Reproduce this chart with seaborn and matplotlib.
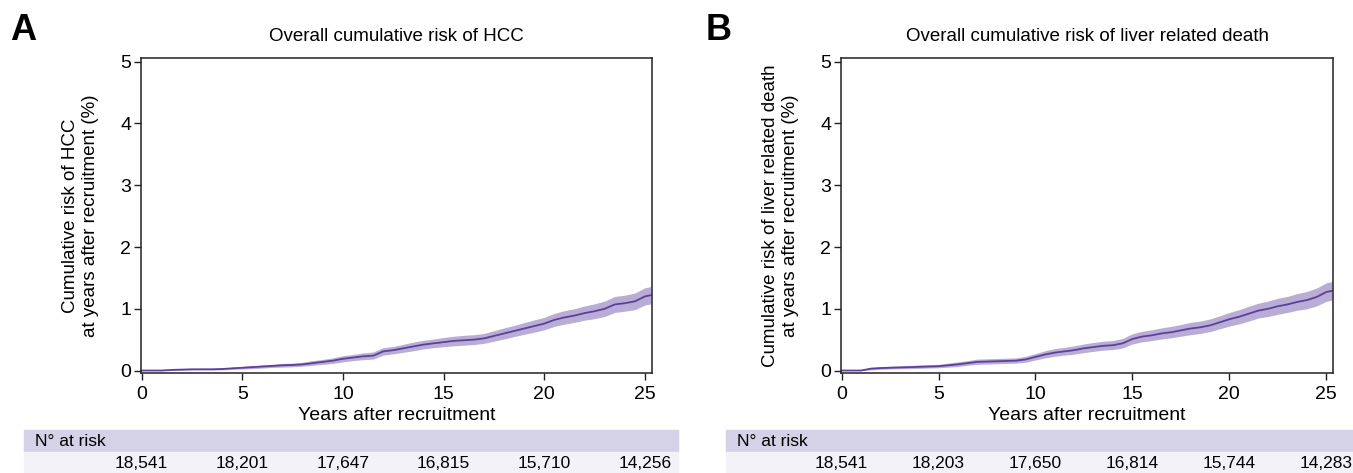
import matplotlib
matplotlib.use("Agg")
import matplotlib.pyplot as plt
import matplotlib.transforms as mtransforms
from matplotlib.patches import Rectangle
import seaborn as sns
import pandas as pd

# --- data (every half year) ---
years = [0, 0.5, 1, 1.5, 2, 2.5, 3, 3.5, 4, 4.5, 5, 5.5, 6, 6.5, 7, 7.5, 8, 8.5, 9, 9.5,
         10, 10.5, 11, 11.5, 12, 12.5, 13, 13.5, 14, 14.5, 15, 15.5, 16, 16.5, 17, 17.5,
         18, 18.5, 19, 19.5, 20, 20.5, 21, 21.5, 22, 22.5, 23, 23.5, 24, 24.5, 25, 25.3]

hcc_risk = [0, 0, 0, 0.01, 0.015, 0.02, 0.02, 0.02, 0.025, 0.035, 0.045, 0.055, 0.065, 0.075,
            0.085, 0.09, 0.1, 0.12, 0.14, 0.16, 0.19, 0.21, 0.23, 0.24, 0.31, 0.33, 0.36, 0.39,
            0.42, 0.44, 0.46, 0.48, 0.49, 0.5, 0.52, 0.56, 0.6, 0.64, 0.68, 0.72, 0.76, 0.82,
            0.86, 0.89, 0.93, 0.96, 1.0, 1.07, 1.09, 1.12, 1.2, 1.22]
hcc_low = [0, 0, 0, 0, 0.005, 0.01, 0.01, 0.01, 0.01, 0.02, 0.025, 0.03, 0.04, 0.05, 0.055,
           0.06, 0.07, 0.085, 0.1, 0.115, 0.14, 0.16, 0.175, 0.185, 0.25, 0.27, 0.295, 0.32,
           0.35, 0.37, 0.385, 0.4, 0.41, 0.42, 0.44, 0.475, 0.51, 0.55, 0.585, 0.62, 0.66,
           0.715, 0.75, 0.78, 0.815, 0.84, 0.875, 0.94, 0.96, 0.985, 1.06, 1.08]
hcc_high = [0, 0, 0, 0.02, 0.025, 0.03, 0.035, 0.035, 0.04, 0.055, 0.065, 0.08, 0.09, 0.1,
            0.115, 0.12, 0.135, 0.16, 0.18, 0.205, 0.24, 0.26, 0.285, 0.3, 0.37, 0.39, 0.425,
            0.46, 0.49, 0.51, 0.535, 0.555, 0.57, 0.58, 0.6, 0.645, 0.69, 0.73, 0.775, 0.82,
            0.86, 0.925, 0.97, 1.0, 1.045, 1.08, 1.125, 1.2, 1.22, 1.255, 1.34, 1.36]

ld_risk = [0, 0, 0, 0.03, 0.04, 0.045, 0.05, 0.055, 0.06, 0.065, 0.07, 0.085, 0.1, 0.12, 0.14,
           0.145, 0.15, 0.155, 0.16, 0.18, 0.22, 0.26, 0.29, 0.31, 0.33, 0.36, 0.38, 0.4, 0.41,
           0.44, 0.51, 0.55, 0.57, 0.6, 0.62, 0.65, 0.68, 0.7, 0.73, 0.78, 0.83, 0.87, 0.92,
           0.97, 1.0, 1.04, 1.07, 1.11, 1.14, 1.19, 1.27, 1.29]
ld_low = [0, 0, 0, 0.01, 0.02, 0.025, 0.03, 0.03, 0.035, 0.04, 0.045, 0.055, 0.065, 0.085, 0.1,
          0.105, 0.11, 0.115, 0.12, 0.135, 0.17, 0.205, 0.23, 0.25, 0.265, 0.29, 0.31, 0.33,
          0.34, 0.365, 0.43, 0.465, 0.485, 0.51, 0.53, 0.555, 0.58, 0.6, 0.63, 0.675, 0.72,
          0.755, 0.8, 0.85, 0.875, 0.91, 0.94, 0.975, 1.0, 1.045, 1.12, 1.14]
ld_high = [0, 0, 0, 0.05, 0.06, 0.07, 0.075, 0.08, 0.09, 0.095, 0.1, 0.12, 0.14, 0.16, 0.185,
           0.19, 0.195, 0.2, 0.205, 0.23, 0.275, 0.32, 0.355, 0.375, 0.4, 0.43, 0.455, 0.475,
           0.485, 0.52, 0.595, 0.635, 0.66, 0.69, 0.715, 0.745, 0.78, 0.8, 0.835, 0.885, 0.94,
           0.985, 1.04, 1.09, 1.125, 1.17, 1.2, 1.245, 1.28, 1.335, 1.42, 1.44]

risk_ticks = [0, 5, 10, 15, 20, 25]
hcc_at_risk = ["18,541", "18,201", "17,647", "16,815", "15,710", "14,256"]
ld_at_risk = ["18,541", "18,203", "17,650", "16,814", "15,744", "14,283"]

LINE = "#5e3f9a"
BAND = "#b9add6"
HEAD = "#d5d1e7"
ROW = "#f3f2f8"

sns.set_style("ticks", {"text.color": "black", "axes.labelcolor": "black",
                        "xtick.color": "black", "ytick.color": "black"})
plt.rcParams["font.family"] = ["Liberation Sans", "DejaVu Sans"]

fig = plt.figure(figsize=(13.53, 4.73), dpi=100)
W, H = 1353, 473


def panel(left_px, right_px, band_left, letter, letter_x, title, ylabel,
          risk, low, high, at_risk):
    ax = fig.add_axes([left_px / W, 1 - 373 / H, (right_px - left_px) / W, 315 / H])
    df = pd.DataFrame({"year": years, "risk": risk})
    ax.fill_between(years, low, high, color=BAND, lw=0)
    sns.lineplot(data=df, x="year", y="risk", ax=ax, color=LINE, lw=1.3)
    ax.set_xlim(-0.03, 25.35)
    ax.set_ylim(-0.04, 5.06)
    ax.set_xticks(risk_ticks)
    ax.set_yticks([0, 1, 2, 3, 4, 5])
    for s in ax.spines.values():
        s.set_color("#222222")
        s.set_linewidth(1.1)
    ax.tick_params(labelsize=14, length=5, width=1, color="#222222")
    ax.tick_params(axis="x", pad=4)
    ax.tick_params(axis="y", pad=2)
    ax.set_xlabel("Years after recruitment", fontsize=14, labelpad=3)
    ax.set_ylabel(ylabel, fontsize=13.5, linespacing=1.25, labelpad=15)
    ax.set_title(title, fontsize=13.5, pad=12)
    fig.text(letter_x / W, 1 - 30 / H, letter, fontsize=26, fontweight="bold", va="center")

    # number at risk table
    fig.patches.append(Rectangle((band_left / W, 1 - 452 / H), 654 / W, 22 / H,
                                 transform=fig.transFigure, color=HEAD, zorder=-1))
    fig.patches.append(Rectangle((band_left / W, 0), 654 / W, 21 / H,
                                 transform=fig.transFigure, color=ROW, zorder=-1))
    fig.text((band_left + 11) / W, 1 - 441 / H, "N\u00b0 at risk", fontsize=12.5, va="center")
    tr = mtransforms.blended_transform_factory(ax.transData, fig.transFigure)
    for t, n in zip(risk_ticks, at_risk):
        ax.text(t, 1 - 463 / H, n, transform=tr, ha="center", va="center",
                fontsize=12.5, clip_on=False)
    return ax


panel(141, 652, 24, "A", 10, "Overall cumulative risk of HCC",
      "Cumulative risk of HCC\nat years after recruitment (%)",
      hcc_risk, hcc_low, hcc_high, hcc_at_risk)
panel(841, 1333, 726, "B", 706, "Overall cumulative risk of liver related death",
      "Cumulative risk of liver related death\nat years after recruitment (%)",
      ld_risk, ld_low, ld_high, ld_at_risk)

fig.savefig("out.png", dpi=100)
